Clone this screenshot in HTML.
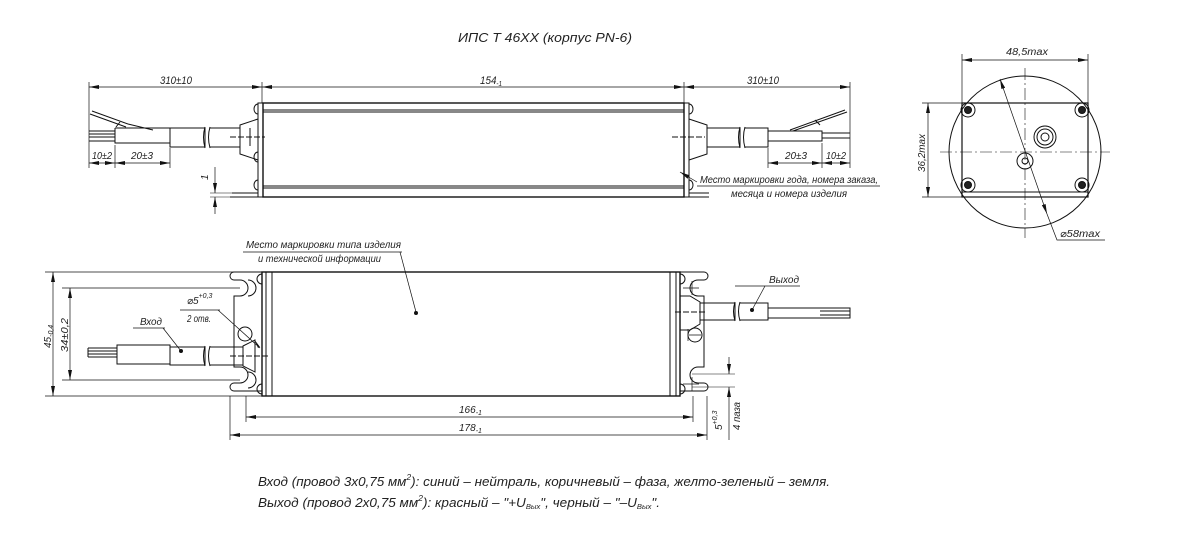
<!DOCTYPE html>
<html><head><meta charset="utf-8"><style>
html,body{margin:0;padding:0;background:#fff;}
svg{display:block;}
text{font-family:"Liberation Sans","DejaVu Sans",sans-serif;font-style:italic;fill:#222;}
</style></head><body>
<svg width="1194" height="547" viewBox="0 0 1194 547" xmlns="http://www.w3.org/2000/svg">
<defs>
<marker id="a" viewBox="0 0 10 4" refX="10" refY="2" markerWidth="10" markerHeight="4" orient="auto-start-reverse" markerUnits="userSpaceOnUse"><path d="M0,0L10,2L0,4z" fill="#111"/></marker>
</defs>
<g stroke="#111" fill="none" stroke-width="1">
<!-- TOP VIEW -->
<line x1="89" y1="87" x2="262" y2="87" marker-start="url(#a)" marker-end="url(#a)" stroke-width="0.8"/>
<line x1="262" y1="87" x2="684" y2="87" marker-start="url(#a)" marker-end="url(#a)" stroke-width="0.8"/>
<line x1="684" y1="87" x2="850" y2="87" marker-start="url(#a)" marker-end="url(#a)" stroke-width="0.8"/>
<line x1="89" y1="82" x2="89" y2="168" stroke-width="0.7"/>
<line x1="262" y1="82" x2="262" y2="103" stroke-width="0.7"/>
<line x1="684" y1="82" x2="684" y2="103" stroke-width="0.7"/>
<line x1="850" y1="82" x2="850" y2="168" stroke-width="0.7"/>
<rect x="263" y="103" width="421" height="94" stroke-width="1.4"/>
<line x1="263" y1="110" x2="684" y2="110"/><line x1="263" y1="112" x2="684" y2="112"/>
<line x1="263" y1="186" x2="684" y2="186"/><line x1="263" y1="188" x2="684" y2="188"/>
<rect x="258" y="103" width="5" height="94"/><rect x="684" y="103" width="5" height="94"/>
<path d="M258 104a4 5 0 0 0 0 10M258 152a4 5 0 0 0 0 10M258 180a4 5 0 0 0 0 10"/>
<path d="M689 104a4 5 0 0 1 0 10M689 180a4 5 0 0 1 0 10"/>
<line x1="230" y1="197" x2="263" y2="197"/><line x1="232" y1="193" x2="258" y2="193"/>
<line x1="689" y1="197" x2="709" y2="197"/><line x1="689" y1="193" x2="709" y2="193"/>
<!-- left cable -->
<path d="M89 131h26M89 134h26M89 137h26M89 141h26"/>
<path d="M115 128v15h55M115 128h55"/>
<path d="M92 111l36 13M90 114l36 13M120 122l-4 5M128 124l25 6"/>
<rect x="170" y="128" width="35" height="19"/>
<path d="M205 127q-3 10 0 21M210 127q-3 10 0 21"/>
<path d="M210 128h30v19h-30"/>
<path d="M240 125l18-6v41l-18-6z"/>
<line x1="230" y1="137" x2="265" y2="137" stroke-dasharray="6,2"/>
<line x1="250" y1="128" x2="250" y2="146"/>
<!-- right cable -->
<path d="M689 119l18 6v29l-18 6"/>
<path d="M707 128h33v19h-33"/>
<path d="M740 127q-3 10 0 21M745 127q-3 10 0 21"/>
<path d="M745 128h23v19h-23"/>
<path d="M768 131h54v10h-54M822 133h28M822 138h28"/>
<path d="M790 130l55-20M793 131l54-19M815 120l5 5"/>
<line x1="672" y1="137" x2="705" y2="137" stroke-dasharray="6,2"/>
<!-- small dims top -->
<line x1="89" y1="163" x2="115" y2="163" marker-start="url(#a)" marker-end="url(#a)" stroke-width="0.7"/>
<line x1="115" y1="163" x2="170" y2="163" marker-start="url(#a)" marker-end="url(#a)" stroke-width="0.7"/>
<line x1="115" y1="145" x2="115" y2="168" stroke-width="0.7"/><line x1="170" y1="148" x2="170" y2="168" stroke-width="0.7"/>
<line x1="768" y1="163" x2="822" y2="163" marker-start="url(#a)" marker-end="url(#a)" stroke-width="0.7"/>
<line x1="822" y1="163" x2="850" y2="163" marker-start="url(#a)" marker-end="url(#a)" stroke-width="0.7"/>
<line x1="768" y1="148" x2="768" y2="168" stroke-width="0.7"/><line x1="822" y1="143" x2="822" y2="168" stroke-width="0.7"/>
<line x1="215" y1="167" x2="215" y2="193" marker-end="url(#a)" stroke-width="0.7"/>
<line x1="215" y1="214" x2="215" y2="197" marker-end="url(#a)" stroke-width="0.7"/>
<line x1="210" y1="193" x2="232" y2="193" stroke-width="0.6"/><line x1="210" y1="197" x2="230" y2="197" stroke-width="0.6"/>
<line x1="697" y1="182" x2="680" y2="172" marker-end="url(#a)" stroke-width="0.7"/>
<line x1="697" y1="186" x2="880" y2="186" stroke-width="0.7"/>
<!-- RIGHT VIEW -->
<circle cx="1025" cy="152" r="76"/>
<rect x="962" y="103" width="126" height="94" stroke-width="1.2"/>
<line x1="962" y1="192" x2="1088" y2="192"/>
<g stroke-width="1">
<circle cx="968" cy="110" r="7"/><circle cx="968" cy="110" r="3.5" fill="#222"/>
<circle cx="1082" cy="110" r="7"/><circle cx="1082" cy="110" r="3.5" fill="#222"/>
<circle cx="968" cy="185" r="7"/><circle cx="968" cy="185" r="3.5" fill="#222"/>
<circle cx="1082" cy="185" r="7"/><circle cx="1082" cy="185" r="3.5" fill="#222"/>
<circle cx="1045" cy="137" r="11"/><circle cx="1045" cy="137" r="8"/><circle cx="1045" cy="137" r="4"/>
<circle cx="1025" cy="161" r="8"/><circle cx="1025" cy="161" r="3"/>
</g>
<line x1="940" y1="152" x2="1110" y2="152" stroke-dasharray="12,3,2,3" stroke-width="0.6"/>
<line x1="1025" y1="68" x2="1025" y2="238" stroke-dasharray="12,3,2,3" stroke-width="0.6"/>
<line x1="962" y1="60" x2="1088" y2="60" marker-start="url(#a)" marker-end="url(#a)" stroke-width="0.7"/>
<line x1="962" y1="54" x2="962" y2="103" stroke-width="0.7"/><line x1="1088" y1="54" x2="1088" y2="103" stroke-width="0.7"/>
<line x1="928" y1="103" x2="928" y2="197" marker-start="url(#a)" marker-end="url(#a)" stroke-width="0.7"/>
<line x1="922" y1="103" x2="962" y2="103" stroke-width="0.7"/><line x1="922" y1="197" x2="962" y2="197" stroke-width="0.7"/>
<line x1="1000" y1="79" x2="1047" y2="214" marker-start="url(#a)" marker-end="url(#a)" stroke-width="0.7"/>
<path d="M1047 214l10 26h48" stroke-width="0.7"/>
<!-- BOTTOM VIEW -->
<rect x="262" y="272" width="418" height="124" stroke-width="1.4"/>
<rect x="262" y="272" width="10" height="124"/><line x1="266" y1="272" x2="266" y2="396"/>
<rect x="670" y="272" width="10" height="124"/><line x1="676" y1="272" x2="676" y2="396"/>
<path d="M262 274a5 5 0 0 0 0 10M262 384a5 5 0 0 0 0 10M680 274a5 5 0 0 1 0 10M680 384a5 5 0 0 1 0 10"/>
<!-- left bracket -->
<path d="M262 272h-28a4 4 0 0 0 0 8h6a8 8 0 0 1 8 8v0a8 8 0 0 1-8 8h-6v71h6a8 8 0 0 1 8 8a8 8 0 0 1-8 8h-6a4 4 0 0 0 0 8h28"/>
<path d="M248 280a8 8 0 0 1 0 16M248 372a8 8 0 0 1 0 16"/>
<circle cx="245" cy="334" r="7"/>
<!-- right bracket -->
<path d="M680 272h24a3 3 0 0 1 0 8h-6a8 8 0 0 0-8 8a8 8 0 0 0 8 8h6v71h-6a8 8 0 0 0-8 8a8 8 0 0 0 8 8h6a3 3 0 0 1 0 8h-24"/>
<circle cx="695" cy="335" r="7"/>
<path d="M688 329v12M689 335h12M683 288h16M683 384h16M692 281v14M692 377v14" stroke-width="0.7"/>
<!-- left cable -->
<path d="M88 348h29M88 351h29M88 354h29M88 357h29M88 348v9"/>
<path d="M117 345h53v19h-53z"/>
<rect x="170" y="347" width="35" height="18"/>
<path d="M205 346q-3 10 0 20M210 346q-3 10 0 20"/>
<path d="M210 347h33v18h-33"/>
<path d="M243 346l12-6v32l-12-6z"/>
<line x1="230" y1="356" x2="268" y2="356" stroke-dasharray="6,2"/>
<!-- right cable -->
<path d="M680 296h10l10 6v22l-10 6h-10"/>
<path d="M700 303h35v17h-35"/>
<path d="M735 302q-3 9 0 19M740 302q-3 9 0 19"/>
<path d="M740 303h28v17h-28"/>
<path d="M768 308h82v10h-82M820 311h30M820 315h30"/>
<line x1="675" y1="312" x2="705" y2="312" stroke-dasharray="6,2"/>
<!-- bottom dims -->
<line x1="45" y1="272" x2="262" y2="272" stroke-width="0.7"/>
<line x1="45" y1="396" x2="262" y2="396" stroke-width="0.7"/>
<line x1="62" y1="288" x2="240" y2="288" stroke-width="0.7"/>
<line x1="62" y1="380" x2="240" y2="380" stroke-width="0.7"/>
<line x1="53" y1="272" x2="53" y2="396" marker-start="url(#a)" marker-end="url(#a)" stroke-width="0.7"/>
<line x1="70" y1="288" x2="70" y2="380" marker-start="url(#a)" marker-end="url(#a)" stroke-width="0.7"/>
<line x1="246" y1="396" x2="246" y2="422" stroke-width="0.7"/>
<line x1="230" y1="396" x2="230" y2="440" stroke-width="0.7"/>
<line x1="693" y1="396" x2="693" y2="422" stroke-width="0.7"/>
<line x1="707" y1="396" x2="707" y2="440" stroke-width="0.7"/>
<line x1="246" y1="417" x2="693" y2="417" marker-start="url(#a)" marker-end="url(#a)" stroke-width="0.7"/>
<line x1="230" y1="435" x2="707" y2="435" marker-start="url(#a)" marker-end="url(#a)" stroke-width="0.7"/>
<line x1="692" y1="374" x2="735" y2="374" stroke-width="0.6"/>
<line x1="692" y1="387" x2="735" y2="387" stroke-width="0.6"/>
<line x1="729" y1="357" x2="729" y2="374" marker-end="url(#a)" stroke-width="0.7"/>
<line x1="729" y1="440" x2="729" y2="387" marker-end="url(#a)" stroke-width="0.7"/>
<!-- leaders -->
<line x1="243" y1="252" x2="402" y2="252" stroke-width="0.7"/>
<line x1="400" y1="252" x2="416" y2="312" stroke-width="0.7"/>
<line x1="180" y1="310" x2="220" y2="310" stroke-width="0.7"/>
<line x1="218" y1="310" x2="260" y2="348" stroke-width="0.7"/>
<line x1="133" y1="328" x2="165" y2="328" stroke-width="0.7"/>
<line x1="163" y1="328" x2="181" y2="351" stroke-width="0.7"/>
<line x1="735" y1="286" x2="800" y2="286" stroke-width="0.7"/>
<line x1="765" y1="286" x2="752" y2="310" stroke-width="0.7"/>
</g>
<g fill="#111">
<circle cx="416" cy="313" r="2"/><circle cx="181" cy="351" r="2"/><circle cx="752" cy="310" r="2"/>
<path d="M254 339l6 8-2 1z"/>
</g>
<!-- TEXT -->
<g font-size="11">
<text x="458" y="42" font-size="13" textLength="174" lengthAdjust="spacingAndGlyphs">ИПС Т 46ХХ (корпус PN-6)</text>
<text x="160" y="84" textLength="32" lengthAdjust="spacingAndGlyphs">310±10</text>
<text x="480" y="84" textLength="22" lengthAdjust="spacingAndGlyphs">154<tspan font-size="7" dy="2">-1</tspan></text>
<text x="747" y="84" textLength="32" lengthAdjust="spacingAndGlyphs">310±10</text>
<text x="92" y="159" font-size="10" textLength="20" lengthAdjust="spacingAndGlyphs">10±2</text>
<text x="131" y="159" font-size="10" textLength="22" lengthAdjust="spacingAndGlyphs">20±3</text>
<text x="785" y="159" font-size="10" textLength="22" lengthAdjust="spacingAndGlyphs">20±3</text>
<text x="826" y="159" font-size="10" textLength="20" lengthAdjust="spacingAndGlyphs">10±2</text>
<text x="0" y="0" font-size="10" transform="translate(208,180) rotate(-90)">1</text>
<text x="700" y="183" font-size="10" textLength="178" lengthAdjust="spacingAndGlyphs">Место маркировки года, номера заказа,</text>
<text x="731" y="197" font-size="10" textLength="116" lengthAdjust="spacingAndGlyphs">месяца и номера изделия</text>
<text x="1006" y="55" font-size="10" textLength="42" lengthAdjust="spacingAndGlyphs">48,5max</text>
<text x="0" y="0" font-size="10" transform="translate(925,172) rotate(-90)" textLength="38" lengthAdjust="spacingAndGlyphs">36,2max</text>
<text x="1060" y="237" font-size="10" textLength="40" lengthAdjust="spacingAndGlyphs">⌀58max</text>
<text x="246" y="248" font-size="10" textLength="155" lengthAdjust="spacingAndGlyphs">Место маркировки типа изделия</text>
<text x="258" y="262" font-size="10" textLength="123" lengthAdjust="spacingAndGlyphs">и технической информации</text>
<text x="187" y="304" font-size="10">⌀5<tspan font-size="7" dy="-6">+0,3</tspan></text>
<text x="187" y="322" font-size="10" textLength="24" lengthAdjust="spacingAndGlyphs">2 отв.</text>
<text x="140" y="325" font-size="10" textLength="22" lengthAdjust="spacingAndGlyphs">Вход</text>
<text x="769" y="283" font-size="10" textLength="30" lengthAdjust="spacingAndGlyphs">Выход</text>
<text x="0" y="0" font-size="10" transform="translate(51,348) rotate(-90)">45<tspan font-size="7" dy="2">-0,4</tspan></text>
<text x="0" y="0" font-size="10" transform="translate(68,352) rotate(-90)" textLength="34" lengthAdjust="spacingAndGlyphs">34±0,2</text>
<text x="459" y="413" font-size="10">166<tspan font-size="7" dy="2">-1</tspan></text>
<text x="459" y="431" font-size="10">178<tspan font-size="7" dy="2">-1</tspan></text>
<text x="0" y="0" font-size="10" transform="translate(722,430) rotate(-90)">5<tspan font-size="7" dy="-5">+0,3</tspan></text>
<text x="0" y="0" font-size="10" transform="translate(740,430) rotate(-90)" textLength="28" lengthAdjust="spacingAndGlyphs">4 паза</text>
<text x="258" y="486" font-size="12.5" textLength="572" lengthAdjust="spacingAndGlyphs">Вход (провод 3х0,75 мм<tspan font-size="8" dy="-6">2</tspan><tspan dy="6">): синий – нейтраль, коричневый – фаза, желто-зеленый – земля.</tspan></text>
<text x="258" y="507" font-size="12.5" textLength="402" lengthAdjust="spacingAndGlyphs">Выход (провод 2х0,75 мм<tspan font-size="8" dy="-6">2</tspan><tspan dy="6">): красный – "+U</tspan><tspan font-size="7" dy="2">Вых</tspan><tspan dy="-2">", черный – "–U</tspan><tspan font-size="7" dy="2">Вых</tspan><tspan dy="-2">".</tspan></text>
</g>
</svg>
</body></html>
